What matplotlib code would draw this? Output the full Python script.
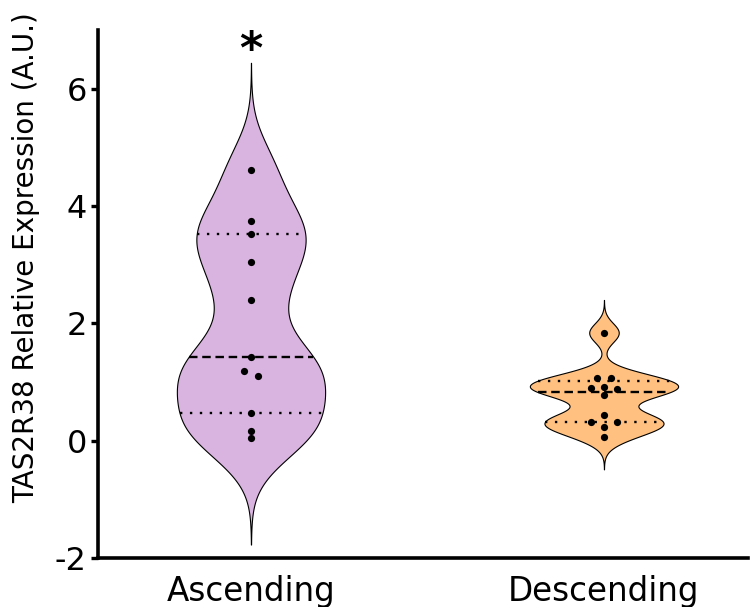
import numpy as np
import matplotlib
matplotlib.use("Agg")
import matplotlib.pyplot as plt

plt.rcParams['font.family'] = ['DejaVu Sans']
plt.rcParams['axes.unicode_minus'] = False

# ---- data ----
categories = ["Ascending", "Descending"]
ascending = [4.62, 3.74, 3.52, 3.04, 2.39, 1.43, 1.18, 1.10, 0.47, 0.17, 0.05]
descending = [1.84, 1.06, 1.06, 0.92, 0.89, 0.88, 0.77, 0.43, 0.32, 0.31, 0.23, 0.07]
fill_colors = ["#D9B4E0", "#FFC080"]
yticks = [-2, 0, 2, 4, 6]
significance = ["*", ""]
ylabel = "TAS2R38 Relative Expression (A.U.)"

fig = plt.figure(figsize=(7.5, 6.07), dpi=100)
ax = fig.add_axes([98/750, 1-558/607, 650/750, 528/607])
ax.set_xlim(-0.4334, 1.408)
ax.set_ylim(-2, 7)

HALF_W = 0.21
BW_FACTOR = 0.55
CUT = 3.4


def kde_profile(vals):
    v = np.asarray(vals, float)
    n = len(v)
    h = BW_FACTOR * v.std(ddof=1) * n ** (-0.2)
    ys = np.linspace(v.min() - CUT * h, v.max() + CUT * h, 600)
    dens = np.exp(-0.5 * ((ys[:, None] - v[None, :]) / h) ** 2).sum(axis=1)
    dens = dens / dens.max() * HALF_W
    return ys, dens


def swarm_offsets(vals, thr_px=5.5, step_px=13.4):
    v = np.asarray(vals, float)
    pts = ax.transData.transform(np.column_stack([np.zeros_like(v), v]))
    ypx = pts[:, 1]
    xpx_per_unit = ax.transData.transform([[1, 0]])[0, 0] - ax.transData.transform([[0, 0]])[0, 0]
    step = step_px / xpx_per_unit
    order = np.argsort(v)
    clusters, cur = [], [order[0]]
    for a, b in zip(order[:-1], order[1:]):
        if abs(ypx[b] - ypx[a]) < thr_px:
            cur.append(b)
        else:
            clusters.append(cur)
            cur = [b]
    clusters.append(cur)
    off = np.zeros(len(v))
    for c in clusters:
        n = len(c)
        if n == 1:
            continue
        c = list(c)
        if n % 2 == 1:
            m = np.mean(v[c])
            center = max(c, key=lambda i: abs(v[i] - m))
            c.remove(center)
            rest = sorted(c, key=lambda i: v[i])
            for k, i in enumerate(rest):
                lvl = k // 2 + 1
                off[i] = step * lvl * (1 if k % 2 == 0 else -1)
        else:
            rest = sorted(c, key=lambda i: v[i])
            for k, i in enumerate(rest):
                lvl = k // 2 + 0.5
                off[i] = step * lvl * (1 if k % 2 == 0 else -1)
    return off


for pos, (vals, col, sig) in enumerate(zip([ascending, descending], fill_colors, significance)):
    ys, w = kde_profile(vals)
    ax.fill_betweenx(ys, pos - w, pos + w, facecolor=col, edgecolor="black", linewidth=0.8, zorder=2)
    q1, med, q3 = np.percentile(vals, [25, 50, 75], method="weibull")
    for q, ls in [(q1, (0, (1, 3.2))), (med, (0, (3.6, 2.0))), (q3, (0, (1, 3.2)))]:
        wq = np.interp(q, ys, w)
        ax.plot([pos - wq, pos + wq], [q, q], color="black", lw=1.7, linestyle=ls, zorder=3)
    offs = swarm_offsets(vals)
    ax.plot(pos + offs, vals, 'o', color="black", markersize=5.2, markeredgewidth=0, zorder=4)
    if sig:
        ax.text(pos, max(ys) - 0.16, sig, ha="center", va="bottom", fontsize=32, fontweight="bold")

ax.spines["top"].set_visible(False)
ax.spines["right"].set_visible(False)
for s in ["left", "bottom"]:
    ax.spines[s].set_linewidth(2.6)
ax.set_yticks(yticks)
ax.set_yticklabels([str(t) for t in yticks])
ax.set_xticks([0, 1])
ax.set_xticklabels(categories)
ax.tick_params(axis="y", length=5, width=2.4, labelsize=23, pad=3)
ax.tick_params(axis="x", length=0, labelsize=23.5, pad=12)

fig.text(26/750, 1-258/607, ylabel, rotation=90, ha="center", va="center", fontsize=20)

fig.savefig("out.png", dpi=100)
